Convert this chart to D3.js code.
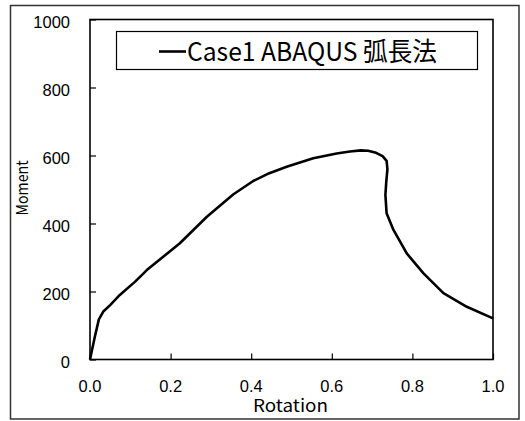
<!DOCTYPE html>
<html>
<head>
<meta charset="utf-8">
<script src="https://cdn.jsdelivr.net/npm/d3@7"></script>
<style>
  html, body { margin: 0; padding: 0; background: #fff; }
  svg { display: block; }
</style>
</head>
<body>
<svg id="chart" width="525" height="421"></svg>
<script>
// Moment–rotation response, arc-length (Riks) analysis
const rotation = [0, 0.012, 0.022, 0.033, 0.05, 0.074, 0.112, 0.141, 0.223, 0.290, 0.356, 0.405,
  0.445, 0.488, 0.554, 0.612, 0.645, 0.672, 0.690, 0.710, 0.726, 0.736, 0.738, 0.735, 0.733,
  0.736, 0.753, 0.786, 0.827, 0.877, 0.935, 1.0];
const moment = [0, 67, 118, 141, 160, 190, 229, 263, 342, 420, 486, 525,
  548, 567, 592, 606, 612, 615, 614, 608, 598, 584, 560, 520, 484,
  430, 381, 312, 254, 195, 155, 121];

const xTicks = [0, 0.2, 0.4, 0.6, 0.8, 1.0];
const yTicks = [0, 200, 400, 600, 800, 1000];
const seriesName = "Case1 ABAQUS 弧長法";
const xTitle = "Rotation";
const yTitle = "Moment";

const svg = d3.select("#chart");

// outer frame
svg.append("rect")
  .attr("x", 10.5).attr("y", 5.5)
  .attr("width", 508.5).attr("height", 413.5)
  .attr("fill", "#fff").attr("stroke", "#333").attr("stroke-width", 1.5);

const x = d3.scaleLinear().domain([0, 1]).range([90, 493]);
const y = d3.scaleLinear().domain([0, 1000]).range([359.5, 19.5]);

const tickFont = "'Liberation Sans', Arial, sans-serif";
const narrowFont = "'Noto Sans CJK JP', 'Noto Sans', sans-serif";

// plot frame
svg.append("rect")
  .attr("x", x(0)).attr("y", y(1000))
  .attr("width", x(1) - x(0)).attr("height", y(0) - y(1000))
  .attr("fill", "none").attr("stroke", "#000").attr("stroke-width", 1.6);

// y axis (ticks pointing inward)
const yAxis = svg.append("g")
  .attr("transform", `translate(${x(0)},0)`)
  .call(d3.axisRight(y).tickValues(yTicks).tickSize(6).tickFormat(""));
yAxis.select(".domain").remove();
yAxis.selectAll(".tick line").attr("stroke", "#000").attr("stroke-width", 1.2);

svg.append("g").selectAll("text")
  .data(yTicks).join("text")
  .attr("x", 70)
  .attr("y", d => y(d) + 2)
  .attr("dominant-baseline", "central")
  .attr("text-anchor", "end")
  .attr("font-family", tickFont)
  .attr("font-size", 16.5)
  .attr("fill", "#000")
  .text(d => d);

// x axis (ticks pointing inward)
const xAxis = svg.append("g")
  .attr("transform", `translate(0,${y(0)})`)
  .call(d3.axisTop(x).tickValues(xTicks).tickSize(6).tickFormat(""));
xAxis.select(".domain").remove();
xAxis.selectAll(".tick line").attr("stroke", "#000").attr("stroke-width", 1.2);

svg.append("g").selectAll("text")
  .data(xTicks).join("text")
  .attr("x", d => x(d))
  .attr("y", 392)
  .attr("text-anchor", "middle")
  .attr("font-family", tickFont)
  .attr("font-size", 16.5)
  .attr("fill", "#000")
  .text(d => d3.format(".1f")(d));

// axis titles
svg.append("text")
  .attr("x", 290.5).attr("y", 411.5)
  .attr("text-anchor", "middle")
  .attr("font-family", narrowFont)
  .attr("font-size", 17)
  .attr("textLength", 75).attr("lengthAdjust", "spacingAndGlyphs")
  .attr("fill", "#000")
  .text(xTitle);

svg.append("text")
  .attr("transform", "translate(28,188) rotate(-90)")
  .attr("text-anchor", "middle")
  .attr("font-family", narrowFont)
  .attr("font-size", 16)
  .attr("textLength", 55).attr("lengthAdjust", "spacingAndGlyphs")
  .attr("fill", "#000")
  .text(yTitle);

// curve
const pts = rotation.map((r, i) => [r, moment[i]]);
const line = d3.line().x(d => x(d[0])).y(d => y(d[1]));
svg.append("path")
  .datum(pts)
  .attr("d", line)
  .attr("fill", "none")
  .attr("stroke", "#000")
  .attr("stroke-width", 2.6)
  .attr("stroke-linejoin", "round");

// legend
const lg = svg.append("g");
lg.append("rect")
  .attr("x", 116.5).attr("y", 31.5)
  .attr("width", 361).attr("height", 38)
  .attr("fill", "#fff").attr("stroke", "#000").attr("stroke-width", 1.2);
lg.append("line")
  .attr("x1", 159).attr("x2", 186)
  .attr("y1", 51.5).attr("y2", 51.5)
  .attr("stroke", "#000").attr("stroke-width", 2.6);
lg.append("text")
  .attr("x", 187).attr("y", 61)
  .attr("font-family", narrowFont)
  .attr("font-size", 26)
  .attr("textLength", 250).attr("lengthAdjust", "spacingAndGlyphs")
  .attr("fill", "#000")
  .text(seriesName);
</script>
</body>
</html>
